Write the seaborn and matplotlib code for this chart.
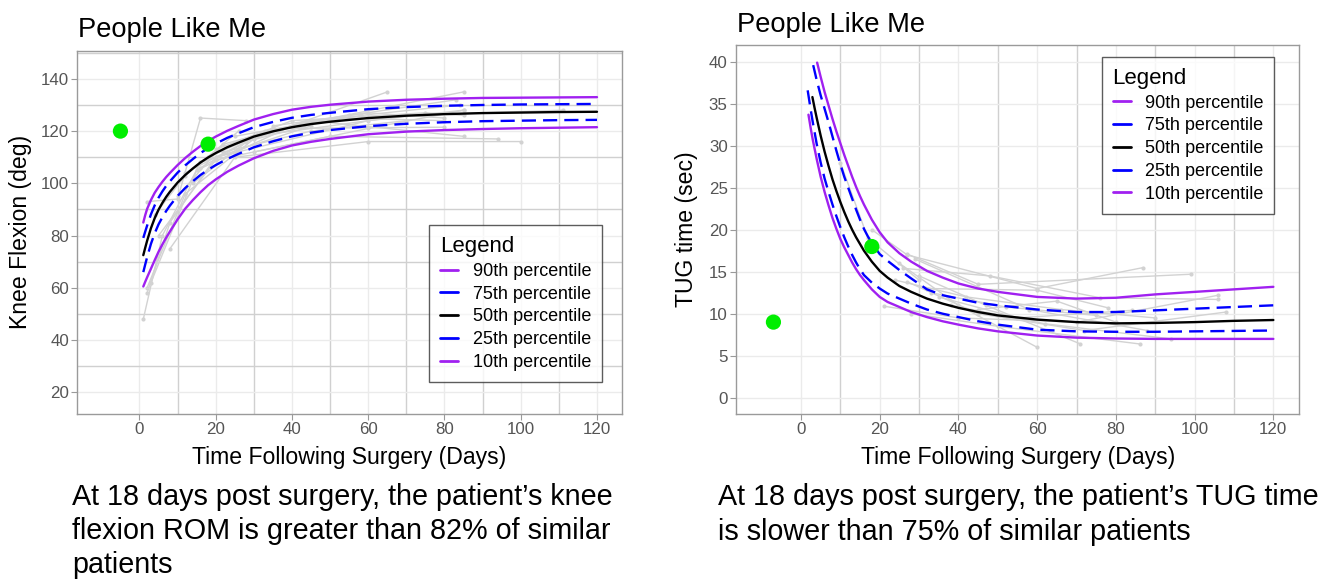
import matplotlib
matplotlib.use("Agg")
import numpy as np
import pandas as pd
import matplotlib.pyplot as plt
import seaborn as sns
from matplotlib.lines import Line2D

# ---------------- Knee flexion chart data ----------------
knee_days = [1, 1.5, 2, 3, 4, 5, 6, 7, 8, 10, 12, 14, 16, 18, 20, 23, 26, 30, 35, 40,
             45, 50, 60, 70, 80, 90, 100, 110, 120]
knee_p90 = [85.0, 87.8, 90.2, 93.6, 96.4, 98.6, 100.6, 102.4, 104.0, 107.0, 109.7, 112.1,
            114.3, 116.2, 117.9, 120.1, 122.0, 124.4, 126.5, 128.2, 129.3, 130.1, 131.3,
            132.0, 132.4, 132.7, 132.8, 132.9, 133.0]
knee_p75 = [79.1, 81.5, 83.8, 88.1, 91.6, 94.5, 96.9, 99.0, 100.8, 104.1, 106.9, 109.3,
            111.6, 113.5, 115.2, 117.4, 119.2, 121.5, 123.5, 125.1, 126.2, 127.0, 128.4,
            129.2, 129.7, 130.0, 130.2, 130.3, 130.4]
knee_p50 = [72.5, 75.3, 78.0, 82.8, 86.7, 89.9, 92.5, 94.8, 96.8, 100.3, 103.2, 105.7,
            108.0, 109.9, 111.6, 113.8, 115.6, 117.9, 119.9, 121.5, 122.7, 123.6, 125.0,
            125.9, 126.5, 126.9, 127.1, 127.3, 127.4]
knee_p25 = [66.0, 68.9, 71.7, 76.8, 80.9, 84.3, 87.0, 89.4, 91.5, 95.2, 98.2, 100.8,
            103.2, 105.2, 107.0, 109.3, 111.3, 113.8, 116.1, 118.0, 119.4, 120.4, 121.9,
            122.8, 123.4, 123.8, 124.0, 124.2, 124.3]
knee_p10 = [60.5, 62.3, 64.0, 67.3, 70.6, 73.8, 76.6, 79.2, 81.6, 86.2, 90.3, 93.6,
            96.6, 99.3, 101.5, 104.4, 106.8, 109.6, 112.4, 114.5, 115.9, 117.0, 118.8,
            119.8, 120.4, 120.8, 121.1, 121.3, 121.5]
knee_patient_days = [
    [1, 6, 16, 45], [2, 8, 20, 60, 85], [2, 10, 16, 28], [2, 12, 30, 65],
    [3, 15, 40, 85], [5, 20, 50, 94], [8, 25, 60, 100], [10, 22, 45, 85],
    [14, 30, 70, 111], [18, 35, 80], [20, 40, 75, 85], [25, 55, 83],
    [4, 12, 26], [30, 60, 85], [12, 28, 52, 80], [22, 45, 70],
    [16, 33, 58, 84], [35, 60, 80],
]
knee_patient_vals = [
    [48, 80, 108, 122], [58, 85, 110, 124, 128], [93, 94, 125, 124], [60, 96, 117, 135],
    [62, 105, 122, 135], [80, 109, 118, 117], [75, 110, 116, 116], [95, 115, 124, 118],
    [100, 118, 126, 128], [110, 121, 121.5], [113, 124, 127, 126], [118, 126, 132],
    [88, 103, 120], [112, 121, 128], [104, 116, 125, 124], [112, 120, 124],
    [106, 120, 126, 130], [122, 127, 125],
]
knee_patient_x = [-5, 18]
knee_patient_y = [120, 115]

# ---------------- TUG chart data ----------------
tug_days_p90 = [4.1, 5, 6, 7, 8, 9, 10, 11, 12, 13, 14, 15, 16, 17, 18, 20, 22, 25, 28,
                32, 36, 40, 45, 50, 60, 70, 80, 90, 100, 110, 120]
tug_p90 = [39.9, 38.2, 36.4, 34.8, 33.2, 31.7, 30.3, 28.9, 27.6, 26.3, 25.1, 24.0, 23.0,
           22.1, 21.2, 19.7, 18.5, 17.2, 16.2, 15.1, 14.3, 13.6, 13.0, 12.6, 12.0, 11.8,
           11.9, 12.3, 12.6, 12.9, 13.2]
tug_days_p75 = [3.1, 4, 5, 6, 7, 8, 9, 10, 11, 12, 13, 14, 15, 16, 17, 18, 20, 22, 25,
                28, 32, 36, 40, 45, 50, 60, 70, 80, 90, 100, 110, 120]
tug_p75 = [39.6, 37.8, 36.0, 34.4, 32.8, 31.1, 29.4, 27.8, 26.3, 25.0, 23.7, 22.4, 21.2,
           20.1, 19.2, 18.4, 17.1, 16.3, 15.2, 14.2, 12.9, 12.2, 11.8, 11.3, 11.0, 10.5,
           10.2, 10.2, 10.4, 10.6, 10.8, 11.0]
tug_days_p50 = [2.9, 3.5, 4, 5, 6, 7, 8, 9, 10, 11, 12, 13, 14, 15, 16, 18, 20, 22, 25,
                28, 32, 36, 40, 45, 50, 60, 70, 80, 90, 100, 110, 120]
tug_p50 = [35.8, 34.4, 33.3, 31.2, 29.3, 27.6, 26.0, 24.6, 23.3, 22.1, 21.0, 20.0, 19.1,
           18.3, 17.5, 16.2, 15.1, 14.3, 13.3, 12.6, 11.8, 11.2, 10.7, 10.2, 9.8, 9.3,
           9.0, 8.85, 8.9, 9.0, 9.15, 9.25]
tug_days_p25 = [1.7, 2.5, 3, 4, 5, 6, 7, 8, 9, 10, 11, 12, 13, 14, 15, 16, 18, 20, 22,
                25, 28, 32, 36, 40, 45, 50, 60, 70, 80, 90, 100, 110, 120]
tug_p25 = [36.6, 34.2, 32.8, 30.2, 28.0, 26.1, 24.5, 23.0, 21.6, 20.3, 19.1, 18.0, 17.0,
           16.1, 15.3, 14.6, 13.7, 13.0, 12.4, 11.8, 11.2, 10.5, 10.0, 9.6, 9.1, 8.7,
           8.1, 7.9, 7.85, 7.85, 7.9, 7.95, 8.0]
tug_days_p10 = [1.9, 2.5, 3, 4, 5, 6, 7, 8, 9, 10, 11, 12, 13, 14, 15, 16, 18, 20, 22,
                25, 28, 32, 36, 40, 45, 50, 60, 70, 80, 90, 100, 110, 120]
tug_p10 = [33.7, 32.0, 30.7, 28.4, 26.3, 24.5, 22.9, 21.4, 20.1, 18.9, 17.9, 17.0, 16.1,
           15.3, 14.6, 14.0, 12.9, 12.0, 11.4, 10.8, 10.2, 9.6, 9.1, 8.7, 8.25, 7.9,
           7.4, 7.15, 7.05, 7.0, 7.0, 7.0, 7.0]
tug_patient_days = [
    [18, 27, 60, 87], [27, 45, 99], [21, 40, 70, 106], [28, 50, 86],
    [25, 40, 60], [30, 47, 71], [26, 48, 76, 106], [32, 60, 78],
    [35, 55, 84], [27, 45, 72, 108], [10, 17, 30], [38, 62, 94],
    [45, 65, 80], [29, 58, 88], [24, 42, 66, 90], [33, 52, 75],
]
tug_patient_vals = [
    [20, 17, 13, 15.5], [17.1, 13.5, 14.7], [10.9, 9.5, 9, 12.2], [10, 8.5, 6.4],
    [16, 11, 6], [14.5, 11, 6.4], [15.4, 14.5, 11.9, 11.7], [13, 12.8, 10.7],
    [12, 9.5, 10.4], [13.8, 10, 8, 10.2], [28, 19, 14], [11, 8.8, 7],
    [10.5, 11.5, 9], [16.5, 10.5, 8], [14, 12, 10.5, 9.5], [12.5, 10.8, 9.8],
]
tug_patient_x = [-7, 18]
tug_patient_y = [9, 18]

legend_labels = ["90th percentile", "75th percentile", "50th percentile",
                 "25th percentile", "10th percentile"]
title_text = "People Like Me"
x_label = "Time Following Surgery (Days)"
knee_caption = ["At 18 days post surgery, the patient\u2019s knee",
                "flexion ROM is greater than 82% of similar",
                "patients"]
tug_caption = ["At 18 days post surgery, the patient\u2019s TUG time",
               "is slower than 75% of similar patients"]

# ---------------- styling ----------------
sns.set_theme(style="white")
plt.rcParams["font.family"] = ["Liberation Sans", "DejaVu Sans"]
plt.rcParams["text.color"] = "black"
plt.rcParams["axes.labelcolor"] = "black"

PURPLE = "#A020F0"
BLUE = "#0000FF"
BLACK = "#000000"
GREEN = "#00EE00"
GREY = "#d2d2d2"
DASH = (0, (6, 3))
LW = 1.7

fig = plt.figure(figsize=(13.38, 5.79), dpi=100)
ax1 = fig.add_axes([0.0578, 0.2855, 0.4069, 0.627])
ax2 = fig.add_axes([0.5501, 0.2850, 0.4210, 0.6373])


def patients_frame(days_list, vals_list):
    rows = []
    for i, (d, v) in enumerate(zip(days_list, vals_list)):
        for dd, vv in zip(d, v):
            rows.append({"patient": i, "day": dd, "value": vv})
    return pd.DataFrame(rows)


def draw(ax, pdays, pvals, curves, pts_x, pts_y):
    df = patients_frame(pdays, pvals)
    sns.lineplot(data=df, x="day", y="value", units="patient", estimator=None,
                 color=GREY, lw=1.0, marker="o", markersize=3, markeredgewidth=0,
                 sort=False, ax=ax, legend=False, zorder=2)
    for d, v, c, ls in curves:
        sns.lineplot(x=d, y=v, ax=ax, color=c, lw=LW, linestyle=ls, zorder=3)
    sns.scatterplot(x=pts_x, y=pts_y, ax=ax, color=GREEN, s=120,
                    edgecolor="none", zorder=5, legend=False)


draw(ax1, knee_patient_days, knee_patient_vals, [
    (knee_days, knee_p90, PURPLE, "-"),
    (knee_days, knee_p75, BLUE, DASH),
    (knee_days, knee_p50, BLACK, "-"),
    (knee_days, knee_p25, BLUE, DASH),
    (knee_days, knee_p10, PURPLE, "-"),
], knee_patient_x, knee_patient_y)

draw(ax2, tug_patient_days, tug_patient_vals, [
    (tug_days_p90, tug_p90, PURPLE, "-"),
    (tug_days_p75, tug_p75, BLUE, DASH),
    (tug_days_p50, tug_p50, BLACK, "-"),
    (tug_days_p25, tug_p25, BLUE, DASH),
    (tug_days_p10, tug_p10, PURPLE, "-"),
], tug_patient_x, tug_patient_y)


def style(ax, xlim, ylim, yticks, yminor, ylab, ylab_x, xlab_y, leg_anchor):
    ax.set_xlim(*xlim)
    ax.set_ylim(*ylim)
    ax.set_xticks([0, 20, 40, 60, 80, 100, 120])
    ax.set_xticks([10, 30, 50, 70, 90, 110], minor=True)
    ax.set_yticks(yticks)
    if yminor:
        ax.set_yticks(yminor, minor=True)
    ax.set_axisbelow(True)
    ax.grid(which="major", color="#ebebeb", lw=1.0)
    if yminor:
        ax.grid(which="minor", color="#d0d0d0", lw=1.0)
    else:
        ax.grid(which="minor", axis="x", color="#d0d0d0", lw=1.0)
    for sp in ax.spines.values():
        sp.set_color("#9a9a9a")
        sp.set_linewidth(1.0)
    ax.tick_params(axis="both", which="major", length=4, width=0.8, color="#9a9a9a",
                   labelsize=12.2, labelcolor="#555555", pad=2, left=True, bottom=True)
    ax.tick_params(axis="both", which="minor", length=0)
    ax.set_xlabel(x_label, fontsize=16.6, color="black")
    ax.set_ylabel(ylab, fontsize=16.6, color="black")
    ax.xaxis.set_label_coords(0.5, xlab_y)
    ax.yaxis.set_label_coords(ylab_x, 0.5)
    handles = [Line2D([0], [0], color=c, lw=2.0) for c in [PURPLE, BLUE, BLACK, BLUE, PURPLE]]
    leg = ax.legend(handles, legend_labels, title="Legend", loc="upper left",
                    bbox_to_anchor=leg_anchor, borderaxespad=0, fontsize=13,
                    title_fontsize=16, alignment="left", frameon=True, fancybox=False,
                    handlelength=1.0, handletextpad=0.8, labelspacing=0.32,
                    borderpad=0.6)
    leg.get_frame().set_edgecolor("#333333")
    leg.get_frame().set_linewidth(1.0)
    leg.set_zorder(10)
    for t in leg.get_texts():
        t.set_color("black")
    leg.get_title().set_color("black")


style(ax1, (-16.3, 126.5), (11.8, 150.8), [20, 40, 60, 80, 100, 120, 140],
      [30, 50, 70, 90, 110, 130, 150], "Knee Flexion (deg)", -0.084, -0.088,
      (0.6466, 0.519))
style(ax2, (-16.5, 126.6), (-1.94, 42.0), [0, 5, 10, 15, 20, 25, 30, 35, 40],
      None, "TUG time (sec)", -0.0675, -0.0867, (0.6492, 0.9675))

H = 579.0
fig.text(78.3 / 1338, 1 - 36.7 / H, title_text, fontsize=19.6, va="baseline", ha="left",
         color="black")
fig.text(737.3 / 1338, 1 - 31.7 / H, title_text, fontsize=19.6, va="baseline", ha="left",
         color="black")

for i, line in enumerate(knee_caption):
    fig.text(72 / 1338, 1 - (505 + 34 * i) / H, line, fontsize=20.7, va="baseline",
             ha="left", color="black")
for i, line in enumerate(tug_caption):
    fig.text(718 / 1338, 1 - (505 + 35 * i) / H, line, fontsize=20.7, va="baseline",
             ha="left", color="black")

fig.savefig("out.png", dpi=100)
